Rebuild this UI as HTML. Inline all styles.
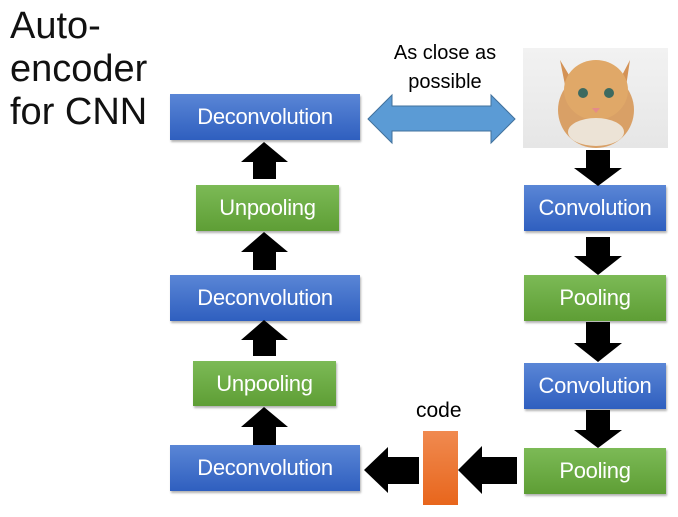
<!DOCTYPE html>
<html><head><style>
body{margin:0;width:678px;height:517px;background:#fff;position:relative;overflow:hidden;font-family:"Liberation Sans",sans-serif}
.b{position:absolute;color:#fff;font-size:22px;display:flex;align-items:center;justify-content:center;box-shadow:1px 2px 2px rgba(0,0,0,.3);letter-spacing:-0.3px}
.bl{background:linear-gradient(#5a86d6,#2f5fbf)}
.gr{background:linear-gradient(#7cba56,#5e9e35)}
.t{position:absolute;color:#000}
</style></head><body>
<div class="t" style="left:10px;top:5px;font-size:38px;line-height:43px;font-weight:300;color:#111">Auto-<br>encoder<br>for CNN</div>
<div class="b bl" style="left:170px;top:94px;width:190px;height:46px">Deconvolution</div>
<div class="b gr" style="left:196px;top:185px;width:143px;height:46px">Unpooling</div>
<div class="b bl" style="left:170px;top:275px;width:190px;height:46px">Deconvolution</div>
<div class="b gr" style="left:193px;top:361px;width:143px;height:45px">Unpooling</div>
<div class="b bl" style="left:170px;top:445px;width:190px;height:46px">Deconvolution</div>
<div class="b bl" style="left:524px;top:185px;width:142px;height:46px">Convolution</div>
<div class="b gr" style="left:524px;top:275px;width:142px;height:46px">Pooling</div>
<div class="b bl" style="left:524px;top:363px;width:142px;height:46px">Convolution</div>
<div class="b gr" style="left:524px;top:448px;width:142px;height:46px">Pooling</div>
<div class="t" style="left:370px;top:39px;width:150px;text-align:center;font-size:20px;line-height:29px">As close as<br>possible</div>
<div class="t" style="left:416px;top:399px;font-size:21px">code</div>
<div style="position:absolute;left:423px;top:431px;width:35px;height:74px;background:linear-gradient(#f08a50,#e8661c)"></div>
<svg width="678" height="517" style="position:absolute;left:0;top:0">
<defs><linearGradient id="c" x1="0" y1="0" x2="0" y2="1"><stop offset="0" stop-color="#f2f2f2"/><stop offset="1" stop-color="#e6e6e6"/></linearGradient></defs>
<rect x="523" y="48" width="145" height="100" fill="url(#c)"/>
<ellipse cx="596" cy="110" rx="38" ry="38" fill="#d9a066"/>
<polygon points="560,60 575,85 568,100" fill="#d49255"/><polygon points="630,60 617,85 624,100" fill="#d49255"/>
<ellipse cx="596" cy="90" rx="32" ry="30" fill="#e0a868"/>
<circle cx="583" cy="93" r="5" fill="#3d6a60"/><circle cx="609" cy="93" r="5" fill="#3d6a60"/>
<polygon points="592,108 600,108 596,113" fill="#e58a8a"/>
<ellipse cx="596" cy="132" rx="28" ry="14" fill="#ece3d6"/>
<polygon points="368,119 392,95 392,106 491,106 491,95 515,119 491,143 491,131 392,131 392,143" fill="#5b9bd5" stroke="#41719c" stroke-width="1"/>
<g fill="#000">
<polygon points="253,179 276,179 276,162 288,162 264,142 241,162 253,162"/>
<polygon points="253,270 276,270 276,252 288,252 264,232 241,252 253,252"/>
<polygon points="253,356 276,356 276,340 288,340 264,320 241,340 253,340"/>
<polygon points="253,445 276,445 276,427 288,427 264,407 241,427 253,427"/>
<polygon points="586,150 610,150 610,168 622,168 598,186 574,168 586,168"/>
<polygon points="586,237 610,237 610,256 622,256 598,275 574,256 586,256"/>
<polygon points="586,322 610,322 610,343 622,343 598,362 574,343 586,343"/>
<polygon points="586,410 610,410 610,430 622,430 598,448 574,430 586,430"/>
<polygon points="364,470 388,447 388,457 419,457 419,484 388,484 388,493"/>
<polygon points="458,470 482,446 482,457 517,457 517,484 482,484 482,494"/>
</g>
</svg>
</body></html>
